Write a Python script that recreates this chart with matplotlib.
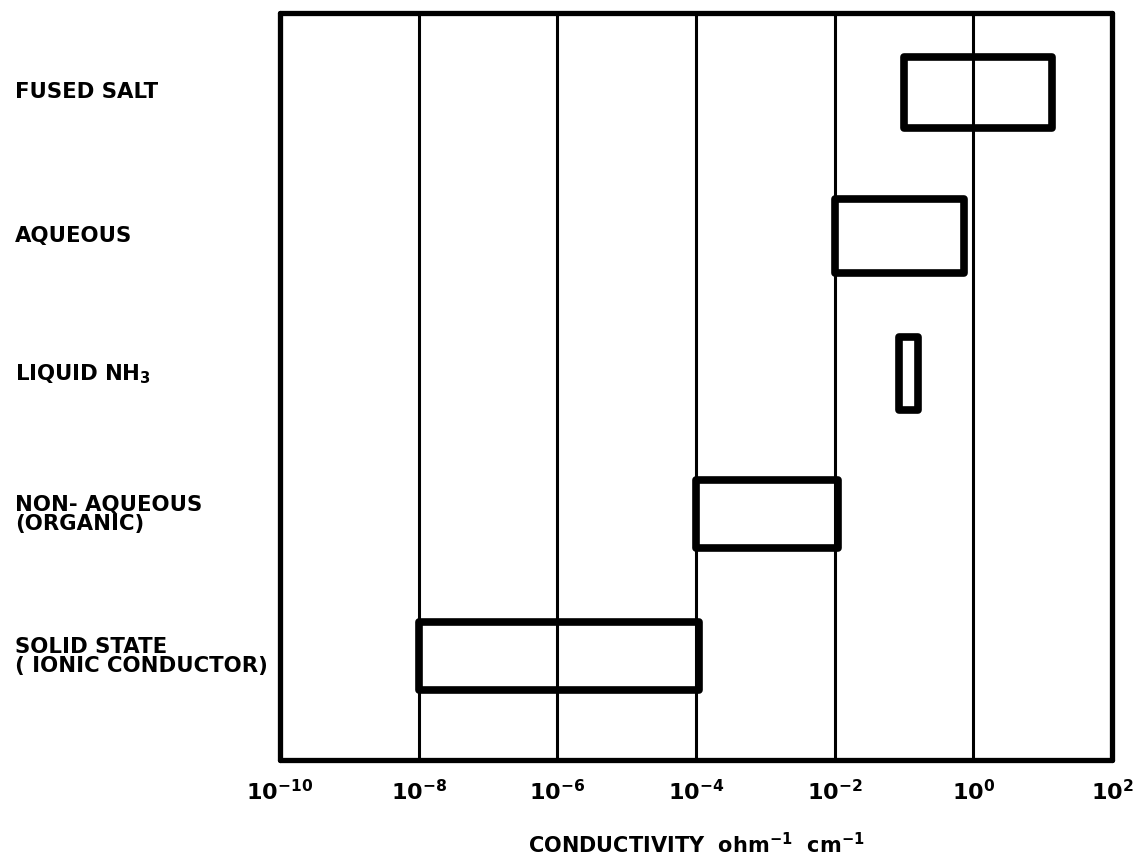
import matplotlib
matplotlib.use('Agg')
import matplotlib.pyplot as plt
import matplotlib.transforms as mtransforms

### data ###
labels = ['FUSED SALT', 'AQUEOUS', 'LIQUID NH$_3$', 'NON- AQUEOUS\n(ORGANIC)', 'SOLID STATE\n( IONIC CONDUCTOR)']
# log10 conductivity ranges (ohm^-1 cm^-1)
lo_exp = [-1.0, -2.0, -1.07, -4.0, -8.0]
hi_exp = [1.13, -0.13, -0.8, -1.95, -3.95]
row_y = [8.94, 7.01, 5.17, 3.29, 1.39]
row_h = [0.95, 0.99, 0.98, 0.91, 0.91]
tick_exp = [-10, -8, -6, -4, -2, 0, 2]

fs = 16
plt.rcParams['mathtext.default'] = 'bf'

fig = plt.figure(figsize=(11.44, 8.65), dpi=100)
ax = fig.add_axes([280/1144, 1-760/865, 832/1144, 747/865])

ax.set_xscale('log')
ax.set_xlim(10.0**-10, 10.0**2)
ax.set_ylim(0, 10)

# vertical grid lines
for e in tick_exp[1:-1]:
	ax.axvline(10.0**e, color='black', linewidth=2.2, zorder=1)

# boxes
lefts = [10.0**a for a in lo_exp]
widths = [10.0**b - 10.0**a for a, b in zip(lo_exp, hi_exp)]
bars = ax.barh(row_y, widths, height=row_h, left=lefts, color='none', edgecolor='black', linewidth=5.5, zorder=3)
for b in bars:
	b.set_joinstyle('round')

# row labels on the left
trans = mtransforms.blended_transform_factory(fig.transFigure, ax.transData)
for lab, y in zip(labels, row_y):
	ax.text(15/1144, y, lab, transform=trans, ha='left', va='center', fontsize=15.3, fontweight='bold', linespacing=0.95, family='DejaVu Sans')

ax.set_xticks([10.0**e for e in tick_exp])
ax.set_xticklabels(['10$^{%d}$' % e for e in tick_exp], fontsize=fs, fontweight='bold')
ax.minorticks_off()
ax.tick_params(axis='x', length=0, pad=14)
ax.set_yticks([])
for sp in ax.spines.values():
	sp.set_linewidth(3.8)
	sp.set_capstyle('round')

ax.set_xlabel('CONDUCTIVITY  ohm$^{-1}$  cm$^{-1}$', fontsize=15, fontweight='bold', labelpad=20)

plt.savefig('out.png', dpi=100)
plt.close()
